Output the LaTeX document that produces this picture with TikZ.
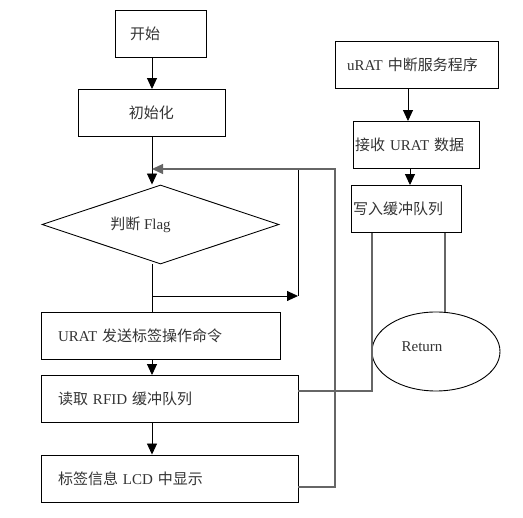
\documentclass[tikz,border=0pt]{standalone}
\usepackage{fontspec}
\setmainfont{Liberation Serif}
\newfontfamily\cjk{Noto Sans CJK SC}
\usetikzlibrary{arrows.meta,shapes.geometric}
\newcommand\zh[1]{{\cjk #1}}

\begin{document}
\begin{tikzpicture}[
      x=1pt, y=-1pt,
      every node/.style={font=\fontsize{15}{18}\selectfont, text=black!80},
      procbox/.style={draw, line width=0.9pt, minimum height=47pt, align=left, inner ysep=0pt},
      decision/.style={draw, diamond, line width=0.9pt, minimum width=237pt, minimum height=79pt, inner sep=0pt},
      terminal/.style={draw, ellipse, line width=0.9pt, minimum width=128pt, minimum height=79pt, inner sep=0pt},
      arrow/.style={-{Triangle[length=11pt,width=10pt]}, line width=0.9pt},
      link/.style={line width=1.1pt, draw=black!60}
  ]
    \useasboundingbox (0,0) rectangle (523,518);
    % main program
    \node[procbox, text width=61pt, inner xsep=15pt] (start) at (160.5,33.5) {\zh{开始}};
    \node[procbox, text width=127pt, inner xsep=10pt, align=center] (init) at (151.5,113) {\zh{初始化}};
    \node[decision, label={[xshift=-20pt]center:\zh{判断} Flag}] (flag) at (160.5,224.5) {};
    \node[procbox, text width=205pt, inner xsep=17pt] (urat) at (160.5,335.5) {URAT \zh{发送标签操作命令}};
    \node[procbox, text width=223pt, inner xsep=17pt] (rfid) at (169.5,399) {\zh{读取} RFID \zh{缓冲队列}};
    \node[procbox, text width=223pt, inner xsep=17pt] (lcd) at (169.5,478.5) {\zh{标签信息} LCD \zh{中显示}};
    % interrupt routine
    \node[procbox, text width=139pt, inner xsep=12pt] (irq) at (416.5,65) {uRAT \zh{中断服务程序}};
    \node[procbox, text width=122pt, inner xsep=2pt] (recv) at (416,145) {\zh{接收} URAT \zh{数据}};
    \node[procbox, text width=106pt, inner xsep=2pt] (write) at (406,209) {\zh{写入缓冲队列}};
    \node[terminal, label={[xshift=-14pt, yshift=5pt]center:Return}] (ret) at (436,351.5) {};

    \coordinate (spine) at (152,0);
    \coordinate (skip) at (298,296);
    \coordinate (back) at (335,169);

    \draw[arrow] (spine |- start.south) -- (spine |- init.north);
    \draw[arrow] (spine |- init.south) -- (spine |- flag.north);
    \draw (spine |- flag.south) -- (spine |- urat.north);
    \draw[arrow] (spine |- skip) -- (skip);
    \draw (skip) -- (skip |- back);
    \draw[arrow] (spine |- urat.south) -- (spine |- rfid.north);
    \draw[arrow] (spine |- rfid.south) -- (spine |- lcd.north);
    \draw[arrow, link] ([yshift=-8.5pt]lcd.east) -| (back) -- (spine |- back);

    \draw[arrow] ([xshift=-8.5pt]irq.south) -- ([xshift=-8.5pt]irq.south |- recv.north);
    \draw[arrow] ([xshift=-6pt]recv.south) -- ([xshift=-6pt]recv.south |- write.north);
    \draw[link] ([yshift=8pt]rfid.east) -| ([xshift=-34pt]write.south);
    \draw[link] ([xshift=39pt]write.south) -- ([xshift=39pt]write.south |- ret.north);
  \end{tikzpicture}
\end{document}
